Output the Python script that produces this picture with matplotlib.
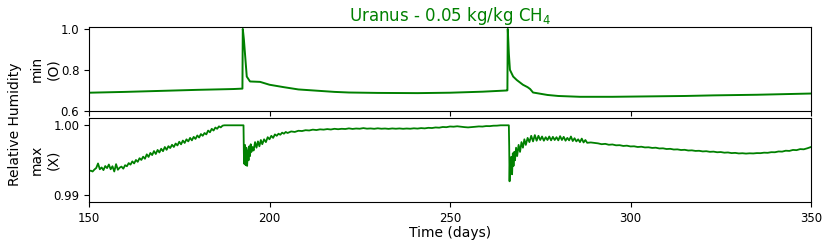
import matplotlib
matplotlib.use("Agg")
import matplotlib.pyplot as plt

# ---- data ----
min_days = [150, 160, 170, 180, 190, 192.5, 192.6, 192.9, 193.2, 193.7,
            194.6, 196, 197.4, 200, 204, 208, 213, 218, 222, 230,
            241, 250, 259, 265.8, 265.9, 266.0, 266.3, 266.6, 267.5, 268.5,
            270.2, 271.5, 272.2, 273, 275, 277, 280, 286, 295, 305,
            315, 323, 335, 350]
min_rh = [0.688, 0.692, 0.697, 0.702, 0.706, 0.708, 1.0, 0.95, 0.881, 0.767,
          0.743, 0.742, 0.741, 0.727, 0.715, 0.704, 0.698, 0.692, 0.689, 0.687,
          0.686, 0.688, 0.693, 0.699, 0.700, 1.0, 0.88, 0.80, 0.767, 0.75,
          0.727, 0.715, 0.706, 0.689, 0.683, 0.677, 0.672, 0.668, 0.668, 0.670,
          0.672, 0.675, 0.678, 0.684]

max_days = [
    150.0, 150.5, 151.0, 151.5, 152.0, 152.5, 153.0, 153.5, 154.0, 154.5,
    155.0, 155.5, 156.0, 156.5, 157.0, 157.5, 158.0, 158.5, 159.0, 159.5,
    160.0, 160.5, 161.0, 161.5, 162.0, 162.5, 163.0, 163.5, 164.0, 164.5,
    165.0, 165.5, 166.0, 166.5, 167.0, 167.5, 168.0, 168.5, 169.0, 169.5,
    170.0, 170.5, 171.0, 171.5, 172.0, 172.5, 173.0, 173.5, 174.0, 174.5,
    175.0, 175.5, 176.0, 176.5, 177.0, 177.5, 178.0, 178.5, 179.0, 179.5,
    180.0, 180.5, 181.0, 181.5, 182.0, 182.5, 183.0, 183.5, 184.0, 184.5,
    185.0, 185.5, 186.0, 186.5, 187.0, 187.5,
    192.8, 192.9, 193.0, 193.2, 193.4, 193.6, 193.8, 194.0, 194.2, 194.4,
    194.6, 194.8, 195.0, 195.3, 195.6, 196.0, 196.4, 196.8, 197.2, 197.6,
    198.0, 198.5, 199.0, 199.5, 200.0, 200.5, 201.0, 201.5, 202.0, 202.5,
    203.0, 203.5, 204.0, 204.5, 205.0,
    206, 207, 208, 209, 210, 211, 212, 213, 214, 215,
    216, 217, 218, 219, 220, 221, 222, 223, 224, 225,
    226, 227, 228, 229, 230, 231, 232, 233, 234, 235,
    236, 237, 238, 239, 240, 241, 242, 243, 244, 245,
    246, 247, 248, 249, 250, 251, 252, 253, 254, 255,
    256, 257, 258, 259, 260, 261, 262, 263, 264,
    266.3, 266.4, 266.5, 266.6, 266.8, 267.0, 267.2, 267.4, 267.6, 267.8,
    268.0, 268.3, 268.6, 269.0, 269.4, 269.8, 270.2, 270.6, 271.0, 271.5,
    272.0, 272.5, 273.0, 273.5, 274.0, 274.5, 275.0, 275.5, 276.0, 276.5,
    277.0, 277.5, 278.0, 278.5, 279.0, 279.5, 280.0, 280.5, 281.0, 281.5,
    282.0, 282.5, 283.0, 283.5, 284.0, 284.5, 285.0, 285.5, 286.0, 286.5,
    287.0, 287.5, 288.0,
    289, 290, 291, 292, 293, 294, 295, 296, 297, 298,
    299, 300, 301, 302, 303, 304, 305, 306, 307, 308,
    309, 310, 311, 312, 313, 314, 315, 316, 317, 318,
    319, 320, 321, 322, 323, 324, 325, 326, 327, 328,
    329, 330, 331, 332, 333, 334, 335, 336, 337, 338,
    339, 340, 341, 342, 343, 344, 345, 346, 347, 348,
    349, 350]
max_rh = [
    0.99345, 0.99352, 0.99340, 0.99368, 0.99390, 0.99455, 0.99372, 0.99398, 0.99360, 0.99418,
    0.99388, 0.99440, 0.99372, 0.99415, 0.99340, 0.99445, 0.99365, 0.99395, 0.99410, 0.99380,
    0.99430, 0.99415, 0.99460, 0.99438, 0.99485, 0.99455, 0.99505, 0.99478, 0.99530, 0.99505,
    0.99552, 0.99522, 0.99585, 0.99548, 0.99605, 0.99575, 0.99632, 0.99590, 0.99648, 0.99612,
    0.99665, 0.99630, 0.99690, 0.99650, 0.99702, 0.99675, 0.99722, 0.99690, 0.99740, 0.99712,
    0.99765, 0.99728, 0.99782, 0.99748, 0.99800, 0.99770, 0.99820, 0.99785, 0.99835, 0.99805,
    0.99855, 0.99825, 0.99875, 0.99850, 0.99890, 0.99870, 0.99925, 0.99900, 0.99950, 0.99925,
    0.99968, 0.99950, 0.99985, 0.99970, 0.99995, 1.00000,
    1.00000, 0.99600, 0.99450, 0.99720, 0.99430, 0.99680, 0.99420, 0.99640, 0.99500, 0.99700,
    0.99560, 0.99730, 0.99620, 0.99690, 0.99640, 0.99760, 0.99680, 0.99770, 0.99700, 0.99790,
    0.99730, 0.99800, 0.99760, 0.99830, 0.99800, 0.99850, 0.99820, 0.99870, 0.99850, 0.99880,
    0.99865, 0.99895, 0.99880, 0.99905, 0.99890,
    0.99912, 0.99905, 0.99922, 0.99918, 0.99930, 0.99926, 0.99938, 0.99932, 0.99942, 0.99938,
    0.99946, 0.99940, 0.99950, 0.99944, 0.99950, 0.99947, 0.99956, 0.99948, 0.99954, 0.99951,
    0.99960, 0.99952, 0.99955, 0.99950, 0.99957, 0.99951, 0.99954, 0.99949, 0.99955, 0.99951,
    0.99955, 0.99950, 0.99954, 0.99951, 0.99957, 0.99953, 0.99960, 0.99956, 0.99964, 0.99961,
    0.99969, 0.99966, 0.99976, 0.99973, 0.99983, 0.99980, 0.99986, 0.99980, 0.99974, 0.99970,
    0.99974, 0.99979, 0.99984, 0.99982, 0.99989, 0.99988, 0.99994, 0.99995, 1.00000,
    1.00000, 0.99700, 0.99200, 0.99450, 0.99350, 0.99550, 0.99300, 0.99600, 0.99420, 0.99620,
    0.99500, 0.99680, 0.99560, 0.99720, 0.99620, 0.99760, 0.99680, 0.99800, 0.99720, 0.99820,
    0.99760, 0.99850, 0.99770, 0.99860, 0.99780, 0.99850, 0.99790, 0.99840, 0.99780, 0.99830,
    0.99790, 0.99840, 0.99785, 0.99835, 0.99790, 0.99830, 0.99785, 0.99845, 0.99790, 0.99835,
    0.99780, 0.99820, 0.99785, 0.99840, 0.99775, 0.99815, 0.99770, 0.99800, 0.99760, 0.99810,
    0.99755, 0.99790, 0.99750,
    0.99755, 0.99748, 0.99742, 0.99730, 0.99735, 0.99722, 0.99726, 0.99714, 0.99716, 0.99705,
    0.99709, 0.99698, 0.99700, 0.99690, 0.99694, 0.99684, 0.99686, 0.99677, 0.99680, 0.99669,
    0.99671, 0.99661, 0.99664, 0.99654, 0.99656, 0.99647, 0.99650, 0.99640, 0.99642, 0.99634,
    0.99636, 0.99627, 0.99630, 0.99621, 0.99624, 0.99615, 0.99618, 0.99609, 0.99612, 0.99603,
    0.99606, 0.99598, 0.99601, 0.99596, 0.99600, 0.99598, 0.99603, 0.99602, 0.99609, 0.99607,
    0.99616, 0.99615, 0.99626, 0.99624, 0.99637, 0.99634, 0.99648, 0.99645, 0.99660, 0.99657,
    0.99672, 0.99690]

x_ticks = [150, 200, 250, 300, 350]
min_yticks = [0.6, 0.8, 1.0]
min_yticklabels = ["0.6", "0.8", "1.0"]
max_yticks = [0.99, 1.00]
max_yticklabels = ["0.99", "1.00"]

title = "Uranus - 0.05 kg/kg CH$_4$"

# ---- figure ----
fig = plt.figure(figsize=(8.31, 2.47), dpi=100)
W, H = 831, 247
def rect(l, t, r, b):
    return [l / W, 1 - b / H, (r - l) / W, (b - t) / H]

ax1 = fig.add_axes(rect(89, 27.3, 811, 110.7))
ax2 = fig.add_axes(rect(89, 118.3, 811, 202.3))

ax1.plot(min_days, min_rh, color="green", lw=1.4)
ax2.plot(max_days, max_rh, color="green", lw=1.3)

for ax in (ax1, ax2):
    ax.set_xlim(150, 350)
    ax.set_xticks(x_ticks)
    ax.tick_params(labelsize=8.5)

ax1.set_ylim(0.6, 1.008)
ax1.set_yticks(min_yticks)
ax1.set_yticklabels(min_yticklabels)
ax1.set_xticklabels([])

ax2.set_ylim(0.9890, 1.0010)
ax2.set_yticks(max_yticks)
ax2.set_yticklabels(max_yticklabels)

ax1.set_ylabel("min\n(O)", fontsize=10)
ax2.set_ylabel("max\n(X)", fontsize=10)
ax1.yaxis.set_label_coords(-0.040, 0.5)
ax2.yaxis.set_label_coords(-0.040, 0.5)

ax2.set_xlabel("Time (days)", fontsize=10, labelpad=1)
ax1.set_title(title, color="green", fontsize=12, pad=3)

fig.text(15 / W, 1 - 124 / H, "Relative Humidity", rotation=90,
         fontsize=10, ha="center", va="center")

fig.savefig("out.png", dpi=100)
